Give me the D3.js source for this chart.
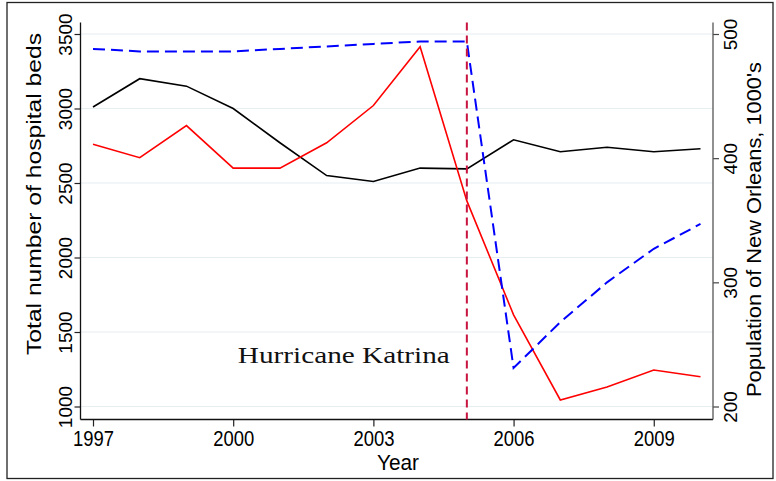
<!DOCTYPE html>
<html>
<head>
<meta charset="utf-8">
<script src="https://cdn.jsdelivr.net/npm/d3@7"></script>
<style>
  body { margin: 0; background: #fff; }
  svg text { font-family: "Liberation Sans", Arial, Helvetica, sans-serif; }
</style>
</head>
<body>
<svg id="chart" width="776" height="481"></svg>
<script>
// Hospital beds and population, New Orleans, 1997–2010
const years = [1997, 1998, 1999, 2000, 2001, 2002, 2003, 2004, 2005, 2006, 2007, 2008, 2009, 2010];
const bedsComparison = [3010, 3200, 3150, 3000, 2770, 2550, 2510, 2600, 2595, 2790, 2710, 2740, 2710, 2730];
const bedsNewOrleans = [2760, 2670, 2885, 2600, 2600, 2770, 3020, 3415, 2380, 1615, 1044, 1131, 1245, 1200];
const population = [488, 486, 486, 486, 488, 490, 492, 494, 494, 231, 268, 300, 327, 347];

const xTicks = [1997, 2000, 2003, 2006, 2009];
const leftTicks = [1000, 1500, 2000, 2500, 3000, 3500];
const rightTicks = [200, 300, 400, 500];
const katrinaYear = 2005;
const katrinaLabel = "Hurricane Katrina";
const katrinaLabelLevel = 1290;

const svg = d3.select("#chart");

// plot region
const plot = { left: 80.5, right: 713, top: 22.5, bottom: 419.5 };

const x = d3.scaleLinear().domain([1997, 2010]).range([93, 700.5]);
const yLeft = d3.scaleLinear().domain([1000, 3500]).range([406.5, 34]);
const yRight = d3.scaleLinear().domain([200, 500]).range([406.5, 34]);

// outer frame
svg.append("rect")
  .attr("x", 7).attr("y", 2.5).attr("width", 766).attr("height", 476)
  .attr("fill", "none").attr("stroke", "#222").attr("stroke-width", 1.3);

// gridlines
svg.append("g")
  .selectAll("line")
  .data(leftTicks)
  .join("line")
  .attr("x1", plot.left).attr("x2", plot.right)
  .attr("y1", d => yLeft(d)).attr("y2", d => yLeft(d))
  .attr("stroke", "#e6eef1").attr("stroke-width", 1.2);

const fs = 19;

// left axis
const gL = svg.append("g").attr("transform", `translate(${plot.left},0)`)
  .call(d3.axisLeft(yLeft).tickValues(leftTicks).tickFormat(d3.format("d")).tickSize(6).tickSizeOuter(0));
gL.select(".domain").remove();
gL.selectAll(".tick line").attr("stroke", "#222").attr("stroke-width", 1.2);
gL.selectAll(".tick text")
  .attr("font-size", fs).attr("fill", "#000")
  .attr("text-anchor", "middle")
  .attr("transform", "rotate(-90)")
  .attr("x", 0).attr("y", -9).attr("dy", 0);

// right axis
const gR = svg.append("g").attr("transform", `translate(${plot.right},0)`)
  .call(d3.axisRight(yRight).tickValues(rightTicks).tickFormat(d3.format("d")).tickSize(6).tickSizeOuter(0));
gR.select(".domain").remove();
gR.selectAll(".tick line").attr("stroke", "#444").attr("stroke-width", 1.2);
gR.selectAll(".tick text")
  .attr("font-size", fs).attr("fill", "#000")
  .attr("text-anchor", "middle")
  .attr("transform", "rotate(-90)")
  .attr("x", 0).attr("y", 24).attr("dy", 0);

// bottom axis
const gB = svg.append("g").attr("transform", `translate(0,${plot.bottom})`)
  .call(d3.axisBottom(x).tickValues(xTicks).tickFormat(d3.format("d")).tickSize(7).tickSizeOuter(0));
gB.select(".domain").remove();
gB.selectAll(".tick line").attr("stroke", "#222").attr("stroke-width", 1.2);
gB.selectAll(".tick text")
  .attr("font-size", 22.5).attr("fill", "#000")
  .attr("y", 26.5).attr("dy", 0)
  .attr("textLength", 41).attr("lengthAdjust", "spacingAndGlyphs");

// axis lines
svg.append("line").attr("x1", plot.left).attr("x2", plot.left)
  .attr("y1", plot.top).attr("y2", plot.bottom).attr("stroke", "#111").attr("stroke-width", 1.3);
svg.append("line").attr("x1", plot.left).attr("x2", plot.right)
  .attr("y1", plot.bottom).attr("y2", plot.bottom).attr("stroke", "#111").attr("stroke-width", 1.3);
svg.append("line").attr("x1", plot.right).attr("x2", plot.right)
  .attr("y1", plot.top).attr("y2", plot.bottom).attr("stroke", "#555").attr("stroke-width", 1.3);

// axis titles
svg.append("text")
  .attr("transform", "translate(41,194) rotate(-90)")
  .attr("text-anchor", "middle").attr("font-size", 21)
  .attr("textLength", 322).attr("lengthAdjust", "spacingAndGlyphs")
  .text("Total number of hospital beds");
svg.append("text")
  .attr("transform", "translate(761,229.5) rotate(-90)")
  .attr("text-anchor", "middle").attr("font-size", 21)
  .attr("textLength", 335).attr("lengthAdjust", "spacingAndGlyphs")
  .text("Population of New Orleans, 1000's");
svg.append("text")
  .attr("x", 398).attr("y", 469.5)
  .attr("text-anchor", "middle").attr("font-size", 22.5)
  .attr("textLength", 42).attr("lengthAdjust", "spacingAndGlyphs")
  .text("Year");

// series
const lineLeft = vals => d3.line().x((d, i) => x(years[i])).y(d => yLeft(d))(vals);
const lineRight = vals => d3.line().x((d, i) => x(years[i])).y(d => yRight(d))(vals);

svg.append("path").attr("d", lineLeft(bedsComparison))
  .attr("fill", "none").attr("stroke", "#000").attr("stroke-width", 1.6);
svg.append("path").attr("d", lineLeft(bedsNewOrleans))
  .attr("fill", "none").attr("stroke", "#ff0000").attr("stroke-width", 1.6);
svg.append("path").attr("d", lineRight(population))
  .attr("fill", "none").attr("stroke", "#0000ff").attr("stroke-width", 2)
  .attr("stroke-dasharray", "12,6");

// Katrina marker
svg.append("line")
  .attr("x1", x(katrinaYear)).attr("x2", x(katrinaYear))
  .attr("y1", plot.top).attr("y2", plot.bottom)
  .attr("stroke", "#c8143f").attr("stroke-width", 2)
  .attr("stroke-dasharray", "8,5");

svg.append("text")
  .attr("x", x(katrinaYear) - 17).attr("y", yLeft(katrinaLabelLevel))
  .attr("text-anchor", "end")
  .attr("style", "font-family:'Liberation Serif', serif")
  .attr("font-size", 24)
  .attr("textLength", 212).attr("lengthAdjust", "spacingAndGlyphs")
  .attr("fill", "#111")
  .text(katrinaLabel);
</script>
</body>
</html>
